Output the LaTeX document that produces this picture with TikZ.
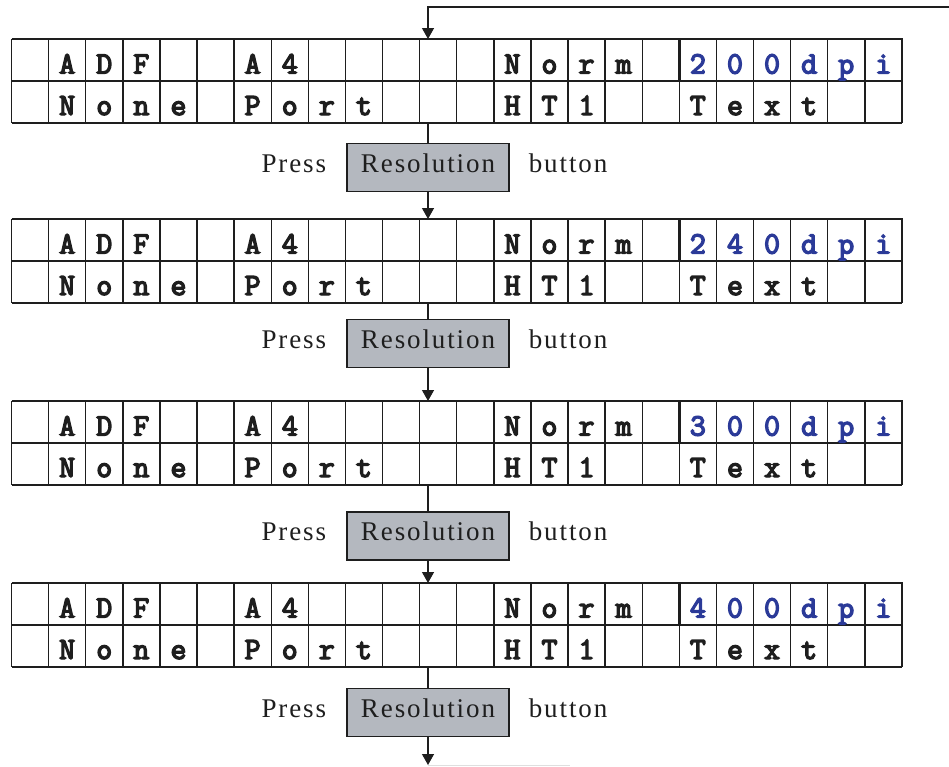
\documentclass[tikz,border=0pt]{standalone}
\usepackage{fontspec}
\usepackage{tikz}
\usetikzlibrary{arrows.meta, positioning}
\newfontfamily\btnfont[LetterSpace=7]{Liberation Serif}
\newfontfamily\lcdfont[FakeBold=4.5]{Latin Modern Mono}
\definecolor{lcdBlue}{HTML}{2B3A98}
\definecolor{lcdLine}{HTML}{1E1E1E}
\definecolor{btnGray}{HTML}{B4B8BF}

\tikzset{
  cellch/.style={anchor=base, inner sep=0pt, text=lcdLine,
    font=\fontsize{31}{31}\selectfont\lcdfont},
  dpich/.style={cellch, text=lcdBlue},
  btnlbl/.style={inner sep=0pt, text=lcdLine, text height=18pt, text depth=9pt,
    font=\fontsize{27}{27}\selectfont\btnfont},
  btnbox/.style={btnlbl, draw=lcdLine, line width=1.3pt, fill=btnGray,
    minimum width=162pt, minimum height=48pt},
  link/.style={draw=lcdLine, line width=1.3pt},
  flow/.style={link, -{Triangle[width=12pt,length=11pt]}},
}

\begin{document}
\begin{tikzpicture}[x=1pt, y=-1pt]
    \useasboundingbox (0,0) rectangle (949,766);

    % one display per press: top edge, button centre, dpi digits
    \foreach \i/\top/\mid/\da/\db in {1/39/167.5/2/0, 2/219/343.5/2/4, 3/401/536/3/0, 4/583/712.5/4/0} {
        % grid of 24 x 2 cells
        \foreach \r in {0,42,84}
            \draw[lcdLine, line width=1.4pt] (11.5,{\top+\r}) -- (901.9,{\top+\r});
        \foreach \c in {0,...,24}
            \draw[lcdLine, line width=1.4pt] ({11.5+37.1*\c},\top) -- ({11.5+37.1*\c},{\top+84});
        \draw[lcdLine, line width=2.8pt] ({11.5+37.1*18},\top) rectangle ({11.5+37.1*24},{\top+42});

        % characters
        \foreach \c/\ch in {1/A,2/D,3/F,6/A,7/4,13/N,14/o,15/r,16/m}
            \node[cellch] (p\i-a\c) at ({11.5+37.1*(\c+0.5)},{\top+34.5}) {\ch};
        \foreach \c/\ch in {18/\da,19/\db,20/0,21/d,22/p,23/i}
            \node[dpich] (p\i-a\c) at ({11.5+37.1*(\c+0.5)},{\top+34.5}) {\ch};
        \foreach \c/\ch in {1/N,2/o,3/n,4/e,6/P,7/o,8/r,9/t,13/H,14/T,15/1,18/T,19/e,20/x,21/t}
            \node[cellch] (p\i-b\c) at ({11.5+37.1*(\c+0.5)},{\top+76}) {\ch};

        \coordinate (ptop\i) at (428,\top);
        \coordinate (pbot\i) at (428,{\top+84});

        % button step
        \node[btnbox] (res\i) at (428,\mid) {Resolution};
        \node[btnlbl, left=20pt of res\i] (press\i) {Press};
        \node[btnlbl, right=19pt of res\i] (btn\i) {button};
        \draw[link] (pbot\i) -- (res\i);
    }

    \foreach \i/\j in {1/2,2/3,3/4}
        \draw[flow] (res\i) -- (ptop\j);

    % loop back
    \coordinate (loopin) at (949,7);
    \coordinate (loopout) at (428,765);
    \coordinate (fade) at (570,765);
    \draw[flow] (loopin) -| (ptop1);
    \draw[flow] (res4) -- (loopout);
    \draw[gray!25, line width=0.8pt] (loopout) -- (fade);
\end{tikzpicture}
\end{document}
